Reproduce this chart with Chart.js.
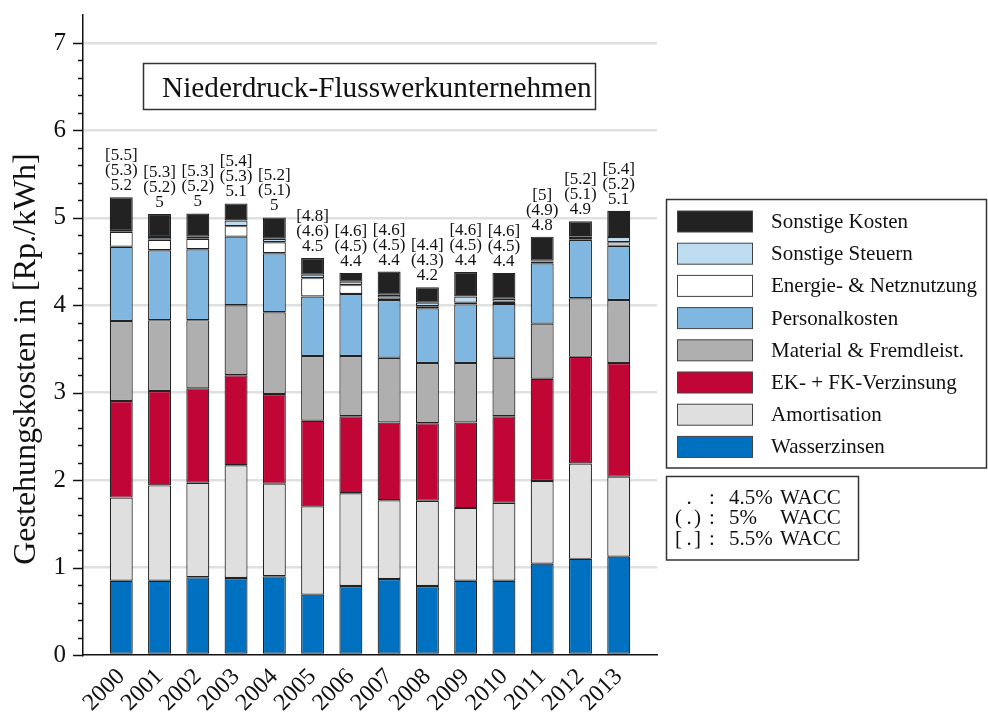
<!DOCTYPE html>
<html>
<head>
<meta charset="utf-8">
<script src="https://cdn.jsdelivr.net/npm/chart.js@4.4.1/dist/chart.umd.min.js"></script>
<style>
  body { margin: 0; background: #fff; }
  #wrap { width: 988px; height: 713px; }
</style>
</head>
<body>
<div id="wrap"><canvas id="myChart" width="988" height="713"></canvas></div>
<script>
// Jahre (x-Achse)
const years = ['2000', '2001', '2002', '2003', '2004', '2005', '2006', '2007', '2008', '2009', '2010', '2011', '2012', '2013'];

// Kostenanteile in Rp./kWh, von unten nach oben gestapelt
const wasserzinsen = [0.85, 0.85, 0.89, 0.88, 0.90, 0.69, 0.79, 0.87, 0.79, 0.85, 0.85, 1.045, 1.10, 1.125];
const amortisation = [0.95, 1.09, 1.08, 1.29, 1.06, 1.01, 1.06, 0.90, 0.975, 0.83, 0.89, 0.945, 1.09, 0.915];
const verzinsung = [1.105, 1.08, 1.08, 1.03, 1.025, 0.98, 0.88, 0.89, 0.885, 0.98, 0.99, 1.17, 1.22, 1.30];
const material = [0.915, 0.81, 0.78, 0.80, 0.935, 0.74, 0.69, 0.74, 0.69, 0.68, 0.67, 0.63, 0.67, 0.72];
const personal = [0.85, 0.80, 0.81, 0.785, 0.675, 0.68, 0.71, 0.66, 0.625, 0.67, 0.615, 0.69, 0.67, 0.62];
const energie = [0.17, 0.12, 0.12, 0.12, 0.125, 0.21, 0.10, 0.03, 0.025, 0.02, 0.025, 0.02, 0.02, 0.04];
const steuern = [0.01, 0.03, 0.025, 0.065, 0.04, 0.04, 0.04, 0.03, 0.04, 0.07, 0.035, 0.01, 0.02, 0.06];
const sonstige = [0.385, 0.265, 0.265, 0.195, 0.245, 0.19, 0.10, 0.265, 0.175, 0.28, 0.295, 0.275, 0.17, 0.30];

// Totale je WACC-Annahme (Beschriftung über den Balken)
const wacc45 = [5.2, 5, 5, 5.1, 5, 4.5, 4.4, 4.4, 4.2, 4.4, 4.4, 4.8, 4.9, 5.1];
const wacc5 = [5.3, 5.2, 5.2, 5.3, 5.1, 4.6, 4.5, 4.5, 4.3, 4.5, 4.5, 4.9, 5.1, 5.2];
const wacc55 = [5.5, 5.3, 5.3, 5.4, 5.2, 4.8, 4.6, 4.6, 4.4, 4.6, 4.6, 5, 5.2, 5.4];

const serif = "'Liberation Serif', 'Times New Roman', serif";

const series = [
    { label: 'Wasserzinsen', data: wasserzinsen, color: '#0070c0' },
    { label: 'Amortisation', data: amortisation, color: '#dfdfdf' },
    { label: 'EK- + FK-Verzinsung', data: verzinsung, color: '#c10535' },
    { label: 'Material & Fremdleist.', data: material, color: '#afafaf' },
    { label: 'Personalkosten', data: personal, color: '#7fb7e0' },
    { label: 'Energie- & Netznutzung', data: energie, color: '#ffffff' },
    { label: 'Sonstige Steuern', data: steuern, color: '#bddcf0' },
    { label: 'Sonstige Kosten', data: sonstige, color: '#222222' }
];

const isInt = v => Math.abs(v - Math.round(v)) < 1e-6;

// Zusatzbeschriftungen: Titelbox, Legende, WACC-Box, y-Titel, Teilstriche
const extras = {
    id: 'extras',
    afterDraw(chart) {
        const ctx = chart.ctx;
        const yScale = chart.scales.y;
        ctx.save();

        // Teilstriche y-Achse
        ctx.strokeStyle = '#111';
        ctx.lineWidth = 1.5;
        yScale.ticks.forEach(t => {
            if (t.value > 7.01) return;
            const py = Math.round(yScale.getPixelForValue(t.value)) + 0.5;
            const len = isInt(t.value) ? 10 : 5;
            ctx.beginPath();
            ctx.moveTo(yScale.right - len, py);
            ctx.lineTo(yScale.right, py);
            ctx.stroke();
        });

        // Werte über den Balken
        const top = chart.getDatasetMeta(series.length - 1);
        ctx.fillStyle = '#111';
        ctx.font = '17px ' + serif;
        ctx.textAlign = 'center';
        ctx.textBaseline = 'alphabetic';
        top.data.forEach((bar, i) => {
            ctx.fillText(String(wacc45[i]), bar.x, bar.y - 7);
            ctx.fillText('(' + wacc5[i] + ')', bar.x, bar.y - 22);
            ctx.fillText('[' + wacc55[i] + ']', bar.x, bar.y - 37);
        });

        // y-Achsentitel
        ctx.save();
        ctx.translate(35, 359);
        ctx.rotate(-Math.PI / 2);
        ctx.font = '32px ' + serif;
        ctx.fillText('Gestehungskosten in [Rp./kWh]', 0, 0);
        ctx.restore();

        // Titelbox
        ctx.fillStyle = '#fff';
        ctx.fillRect(143.5, 63.5, 452, 46);
        ctx.strokeStyle = '#333';
        ctx.lineWidth = 1.5;
        ctx.strokeRect(143.5, 63.5, 452, 46);
        ctx.fillStyle = '#111';
        ctx.textAlign = 'left';
        ctx.font = '29.3px ' + serif;
        ctx.fillText('Niederdruck-Flusswerkunternehmen', 162, 97);

        // Legende
        ctx.strokeRect(666.5, 199.5, 320, 268.5);
        ctx.font = '21px ' + serif;
        ctx.textBaseline = 'middle';
        for (let i = 0; i < series.length; i++) {
            const s = series[series.length - 1 - i];
            const cy = 221.5 + 32.2 * i;
            ctx.fillStyle = s.color;
            ctx.fillRect(677.5, cy - 10.5, 75, 21);
            ctx.lineWidth = 1;
            ctx.strokeStyle = '#444';
            ctx.strokeRect(677.5, cy - 10.5, 75, 21);
            ctx.fillStyle = '#111';
            ctx.fillText(s.label, 771, cy + 1);
        }

        // WACC-Box
        ctx.lineWidth = 1.5;
        ctx.strokeStyle = '#333';
        ctx.strokeRect(666.5, 476.5, 192, 83.5);
        const rows = [['', '.', '', '4.5%'], ['(', '.', ')', '5%'], ['[', '.', ']', '5.5%']];
        rows.forEach((r, i) => {
            const cy = 498 + 20.5 * i;
            ctx.textAlign = 'left';
            ctx.fillText(r[0], 675, cy);
            ctx.textAlign = 'center';
            ctx.fillText(r[1], 689, cy);
            ctx.textAlign = 'left';
            ctx.fillText(r[2], 694, cy);
            ctx.fillText(':', 709, cy);
            ctx.fillText(r[3], 729, cy);
            ctx.fillText('WACC', 780, cy);
        });
        ctx.restore();
    }
};

const ctx = document.getElementById('myChart').getContext('2d');
new Chart(ctx, {
    type: 'bar',
    data: {
        datasets: series.map(s => ({
            label: s.label,
            data: s.data.map((v, i) => ({ x: i, y: v })),
            backgroundColor: s.color,
            borderColor: '#222',
            borderWidth: 1.2,
            borderSkipped: false,
            barPercentage: 1,
            categoryPercentage: 0.6
        }))
    },
    options: {
        responsive: false,
        animation: false,
        devicePixelRatio: 1,
        layout: { padding: { top: 15, right: 331, bottom: 0, left: 0 } },
        scales: {
            x: {
                type: 'linear',
                offset: false,
                stacked: true,
                min: -1,
                max: 14,
                grid: { display: false, drawTicks: false },
                border: { display: true, color: '#111', width: 1.5 },
                ticks: {
                    stepSize: 1,
                    autoSkip: false,
                    minRotation: 45,
                    maxRotation: 45,
                    padding: 8,
                    color: '#111',
                    font: { family: serif, size: 24 },
                    callback: v => years[v] || ''
                },
                afterFit: s => {
                    s.height = 58;
                    s.paddingLeft = 0;
                    s.paddingRight = 0;
                }
            },
            y: {
                stacked: true,
                min: 0,
                max: 7.32,
                grid: {
                    drawTicks: false,
                    lineWidth: 2.5,
                    color: c => (isInt(c.tick.value) && c.tick.value > 0 && c.tick.value <= 7) ? '#e0e0e0' : 'rgba(0,0,0,0)'
                },
                border: { display: true, color: '#111', width: 1.5 },
                ticks: {
                    stepSize: 0.2,
                    autoSkip: false,
                    padding: 17,
                    color: '#111',
                    font: { family: serif, size: 25 },
                    callback: v => (isInt(v) && v <= 7) ? String(Math.round(v)) : ''
                },
                afterFit: s => {
                    s.width = 83;
                    s.paddingTop = 0;
                    s.paddingBottom = 0;
                }
            }
        },
        plugins: {
            legend: { display: false },
            tooltip: { enabled: false }
        }
    },
    plugins: [extras]
});
</script>
</body>
</html>
